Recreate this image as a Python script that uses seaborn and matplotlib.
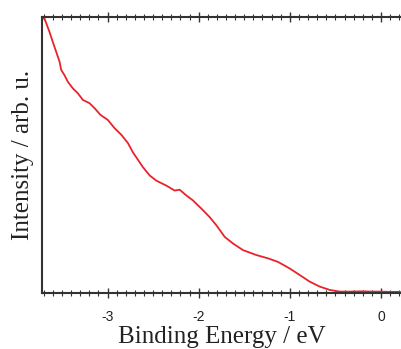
import matplotlib
matplotlib.use("Agg")
import matplotlib.pyplot as plt
from matplotlib.ticker import MultipleLocator
import seaborn as sns
import pandas as pd

# Valence-band photoemission spectrum
binding_energy = [
    -3.714, -3.692, -3.637, -3.601, -3.564, -3.527, -3.509, -3.473, -3.436,
    -3.381, -3.326, -3.271, -3.198, -3.143, -3.080, -2.997, -2.923, -2.849,
    -2.777, -2.722, -2.685, -2.612, -2.538, -2.465, -2.355, -2.264, -2.209,
    -2.135, -2.063, -1.970, -1.879, -1.805, -1.714, -1.623, -1.513, -1.366,
    -1.238, -1.129, -1.000, -0.890, -0.780, -0.670, -0.560, -0.451, -0.350,
    -0.200, -0.100, 0.000, 0.100, 0.210,
]
intensity = [
    100.0, 99.9, 95.0, 91.4, 87.8, 84.2, 81.2, 79.3, 76.9,
    74.5, 72.7, 70.3, 69.1, 67.3, 64.9, 63.0, 60.0, 57.6,
    54.6, 51.2, 49.4, 45.8, 42.8, 40.9, 39.1, 37.3, 37.6,
    35.5, 33.7, 30.7, 27.6, 24.6, 20.4, 18.0, 15.6, 13.8,
    12.6, 11.3, 8.9, 6.5, 4.1, 2.3, 1.1, 0.5, 0.5,
    0.6, 0.5, 0.5, 0.4, 0.4,
]
x_ticks = [-3, -2, -1, 0]
x_tick_labels = ["-3", "-2", "-1", "0"]

df = pd.DataFrame({"Binding Energy": binding_energy, "Intensity": intensity})

sns.set_style("ticks")
plt.rcParams["font.family"] = ["Liberation Sans", "DejaVu Sans"]

fig = plt.figure(figsize=(4.01, 3.49), dpi=100)
ax = fig.add_axes([0.1047, 0.1605, 0.8953, 0.7908])

sns.lineplot(data=df, x="Binding Energy", y="Intensity", ax=ax,
             color="#e8232b", linewidth=1.3, sort=False)

ax.set_xlim(-3.72, 0.22)
ax.set_ylim(0, 100.5)

ax.set_xticks(x_ticks)
ax.set_xticklabels(x_tick_labels, fontsize=10, color="#222222")
ax.xaxis.set_minor_locator(MultipleLocator(0.1))
ax.tick_params(axis="x", which="major", direction="inout", length=7, width=1.0,
               color="#333333", top=True, bottom=True, labeltop=False, pad=9)
ax.tick_params(axis="x", which="minor", direction="inout", length=4, width=0.8,
               color="#333333", top=True, bottom=True)
ax.set_yticks([])

for side in ["left", "bottom", "top"]:
    ax.spines[side].set_linewidth(1.5)
    ax.spines[side].set_color("#333333")
ax.spines["right"].set_visible(False)

ax.set_xlabel("Binding Energy / eV", fontsize=18, family="Liberation Serif",
              color="#222222", labelpad=1)
ax.set_ylabel("Intensity / arb. u.", fontsize=18, family="Liberation Serif",
              color="#222222", labelpad=6)

fig.savefig("out.png", dpi=100)
